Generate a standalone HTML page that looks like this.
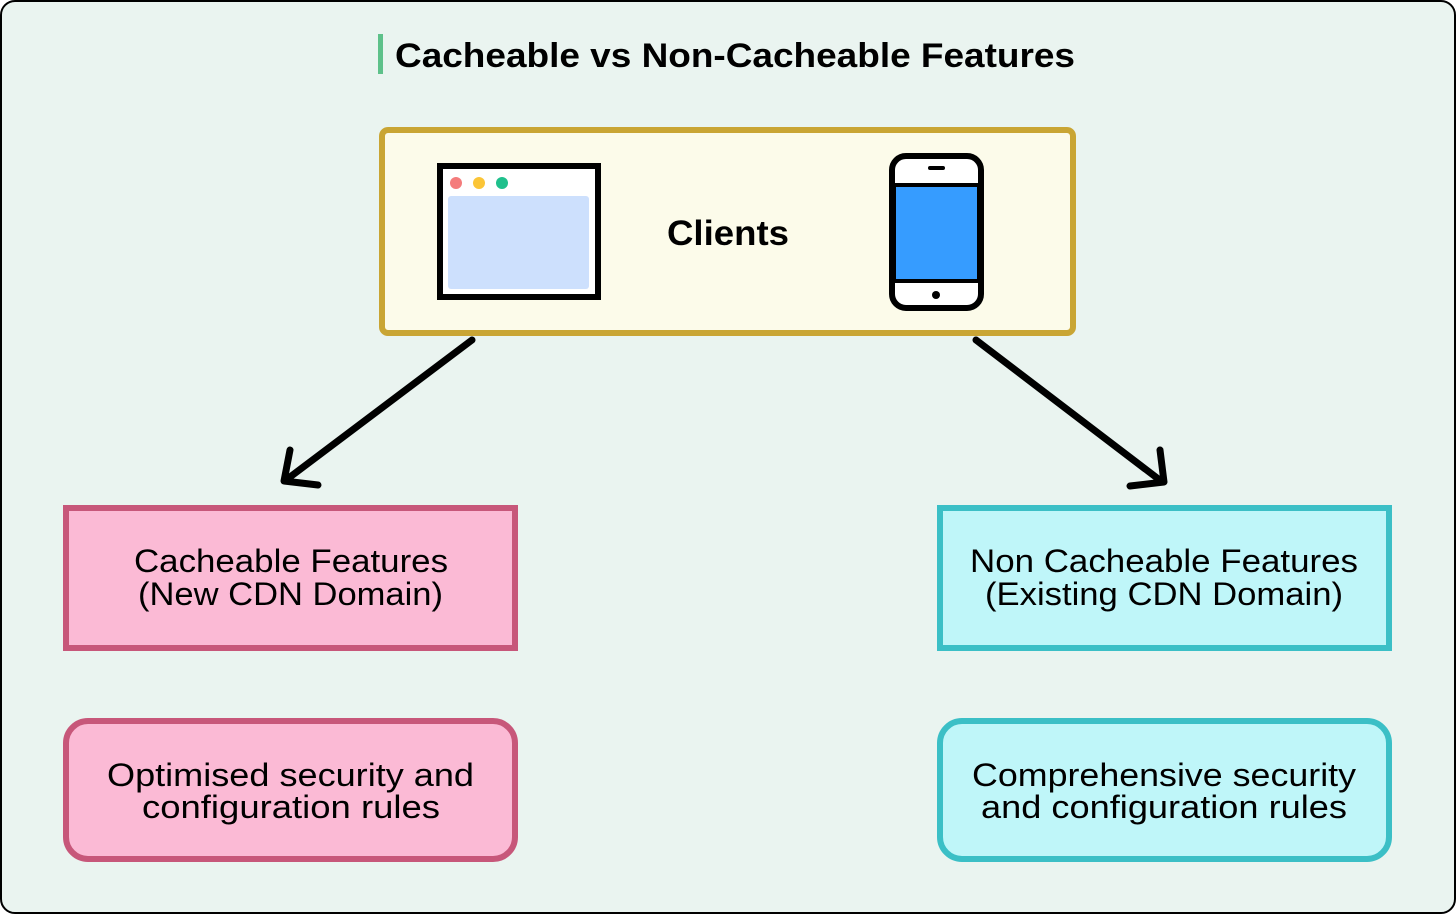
<!DOCTYPE html>
<html><head><meta charset="utf-8"><style>
html,body{margin:0;padding:0;background:#fff}
svg{display:block}
text{font-family:"Liberation Sans","DejaVu Sans",sans-serif;fill:#000}
</style></head><body>
<svg width="1456" height="914" viewBox="0 0 1456 914" xmlns="http://www.w3.org/2000/svg">
<rect x="1" y="1" width="1454" height="912" rx="14" fill="#eaf4f0" stroke="#000" stroke-width="2"/>
<rect x="378" y="34" width="5" height="40" fill="#5ec18a"/>
<text x="395" y="67" font-size="34" font-weight="bold" textLength="680" lengthAdjust="spacingAndGlyphs">Cacheable vs Non-Cacheable Features</text>
<rect x="382" y="130" width="691" height="203" rx="6" fill="#fcfbea" stroke="#c9a534" stroke-width="6"/>
<rect x="440" y="166" width="158" height="131" fill="#fff" stroke="#000" stroke-width="6"/>
<rect x="448" y="196" width="141" height="93" rx="3" fill="#cde0fd"/>
<circle cx="456" cy="183" r="6" fill="#f47c7c"/>
<circle cx="479" cy="183" r="6" fill="#fbc537"/>
<circle cx="502" cy="183" r="6" fill="#1fc08c"/>
<rect x="892" y="156" width="89" height="152" rx="14" fill="#fff" stroke="#000" stroke-width="6"/>
<rect x="893" y="183" width="87" height="100" fill="#000"/>
<rect x="896" y="187" width="81" height="92" fill="#369cff"/>
<rect x="928" y="166" width="17" height="4" rx="2" fill="#000"/>
<circle cx="936" cy="295" r="4" fill="#000"/>
<text x="667" y="245" font-size="35" font-weight="bold" textLength="122" lengthAdjust="spacingAndGlyphs">Clients</text>
<g stroke="#000" stroke-width="7" stroke-linecap="round" stroke-linejoin="round" fill="none">
<line x1="472" y1="340" x2="286" y2="480"/>
<polyline points="290,450 284,481 318,485"/>
<line x1="976" y1="340" x2="1161" y2="481"/>
<polyline points="1160,450 1164,482 1130,486"/>
</g>
<g font-size="32">
<rect x="66" y="508" width="449" height="140" fill="#fbbad5" stroke="#c7577a" stroke-width="6"/>
<text x="134" y="572" textLength="314" lengthAdjust="spacingAndGlyphs">Cacheable Features</text>
<text x="138" y="605" textLength="305" lengthAdjust="spacingAndGlyphs">(New CDN Domain)</text>
<rect x="66" y="721" width="449" height="138" rx="22" fill="#fbbad5" stroke="#c7577a" stroke-width="6"/>
<text x="107" y="786" textLength="367" lengthAdjust="spacingAndGlyphs">Optimised security and</text>
<text x="142" y="818" textLength="298" lengthAdjust="spacingAndGlyphs">configuration rules</text>
<rect x="940" y="508" width="449" height="140" fill="#bff6f9" stroke="#3bbfc6" stroke-width="6"/>
<text x="970" y="572" textLength="388" lengthAdjust="spacingAndGlyphs">Non Cacheable Features</text>
<text x="985" y="605" textLength="358" lengthAdjust="spacingAndGlyphs">(Existing CDN Domain)</text>
<rect x="940" y="721" width="449" height="138" rx="22" fill="#bff6f9" stroke="#3bbfc6" stroke-width="6"/>
<text x="972" y="786" textLength="384" lengthAdjust="spacingAndGlyphs">Comprehensive security</text>
<text x="981" y="818" textLength="366" lengthAdjust="spacingAndGlyphs">and configuration rules</text>
</g>
</svg>
</body></html>
